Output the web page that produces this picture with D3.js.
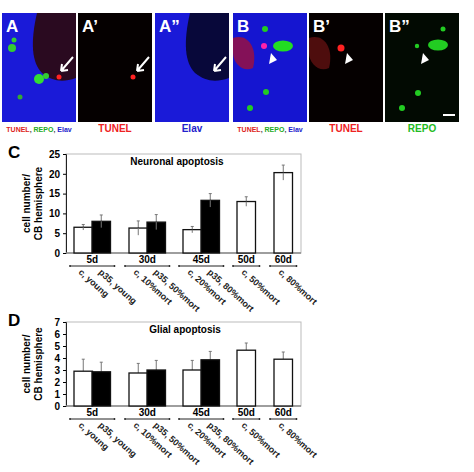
<!DOCTYPE html>
<html><head><meta charset="utf-8">
<script src="https://cdn.jsdelivr.net/npm/d3@7"></script>
<style>body{margin:0;background:#fff}text{font-family:Arial,"Liberation Sans",sans-serif}</style>
</head><body><div id="fig"></div>
<script>
const groups = ['5d', '30d', '45d', '50d', '60d'];
const conditions = ['c, young', 'p35, young', 'c, 10%mort', 'p35, 50%mort', 'c, 20%mort', 'p35, 80%mort', 'c, 50%mort', 'c, 80%mort'];
const barGroup = [0, 0, 1, 1, 2, 2, 3, 4];
const isP35 = [false, true, false, true, false, true, false, false];
const neuronalMean = [6.5, 8.0, 6.3, 7.8, 5.9, 13.3, 13.0, 20.3];
const neuronalErr = [0.7, 1.6, 1.8, 1.9, 0.8, 1.7, 1.2, 1.9];
const glialMean = [2.9, 2.85, 2.75, 3.0, 3.0, 3.85, 4.65, 3.9];
const glialErr = [1.0, 0.8, 0.8, 0.8, 0.8, 0.7, 0.6, 0.6];
const neuronalTicks = [0, 5, 10, 15, 20, 25];
const glialTicks = [0, 1, 2, 3, 4, 5, 6, 7];

const svg = d3.select('#fig').append('svg').attr('width', 474).attr('height', 472);

// ---- microscopy panels (schematic) ----
const panels = [
  {x: 2, label: 'A', bg: '#1a1ad8', dark: true},
  {x: 78, label: 'A\u2019', bg: '#050000'},
  {x: 155, label: 'A\u201d', bg: '#1a1ad8', dark: true},
  {x: 233, label: 'B', bg: '#1515d0'},
  {x: 309, label: 'B\u2019', bg: '#050000'},
  {x: 385, label: 'B\u201d', bg: '#020a02'}
];
const pw = 74, py = 13, ph = 109;
panels.forEach((p, i) => {
  const g = svg.append('g').attr('transform', `translate(${p.x},${py})`);
  g.append('rect').attr('width', pw).attr('height', ph).attr('fill', p.bg);
  if (p.dark) {
    g.append('path').attr('d', 'M35,0 L74,0 L74,65 C60,70 50,68 40,60 C30,50 28,30 35,0Z')
      .attr('fill', i === 0 ? '#2a0a20' : '#08083a');
  }
  if (i === 0) {
    [[10, 35, 4, '#3c3'], [12, 27, 2.5, '#3c3'], [37, 66, 5, '#3d3'], [44, 63, 3, '#3c3'], [18, 84, 2.5, '#3a3']]
      .forEach(c => g.append('circle').attr('cx', c[0]).attr('cy', c[1]).attr('r', c[2]).attr('fill', c[3]));
    g.append('circle').attr('cx', 57).attr('cy', 64).attr('r', 2.5).attr('fill', '#f22');
  }
  if (i === 1) g.append('circle').attr('cx', 55).attr('cy', 64).attr('r', 2.5).attr('fill', '#f22');
  if (i === 3) {
    g.append('path').attr('d', 'M0,25 C15,20 25,35 20,55 C10,60 0,50 0,40Z').attr('fill', '#a0103a').attr('opacity', 0.8);
    [[50, 33, 10, 5.5, '#2d2'], [32, 16, 3, 3, '#2c2'], [33, 79, 3, 3, '#2c2'], [17, 95, 3, 3, '#2c2']]
      .forEach(c => g.append('ellipse').attr('cx', c[0]).attr('cy', c[1]).attr('rx', c[2]).attr('ry', c[3]).attr('fill', c[4]));
    g.append('circle').attr('cx', 31).attr('cy', 33).attr('r', 3).attr('fill', '#f2a');
  }
  if (i === 4) {
    g.append('path').attr('d', 'M0,25 C15,20 25,35 20,55 C10,60 0,50 0,40Z').attr('fill', '#601010').attr('opacity', 0.8);
    g.append('circle').attr('cx', 32).attr('cy', 35).attr('r', 3.5).attr('fill', '#f22');
  }
  if (i === 5) {
    [[53, 32, 10, 5.5], [58, 16, 2.5, 2.5], [32, 33, 2.2, 2.2], [33, 80, 3, 3], [17, 95, 3, 3]]
      .forEach(c => g.append('ellipse').attr('cx', c[0]).attr('cy', c[1]).attr('rx', c[2]).attr('ry', c[3]).attr('fill', '#2c2'));
    g.append('rect').attr('x', 58).attr('y', 101).attr('width', 12).attr('height', 2).attr('fill', '#fff');
  }
  if (i < 3) {
    g.append('path').attr('d', 'M71,44 L59,58 M59,58 L60,51 M59,58 L66,57').attr('stroke', '#fff').attr('stroke-width', 2).attr('fill', 'none');
  } else {
    g.append('path').attr('d', 'M38,40 L36,51 L44,47Z').attr('fill', '#fff');
  }
  g.append('text').attr('x', 4).attr('y', 19).attr('fill', '#fff').attr('font-size', 17).attr('font-weight', 'bold').text(p.label);
});
const chan = [
  {x: 39, parts: [['TUNEL', '#d22'], [', ', '#444'], ['REPO', '#2a2'], [', ', '#444'], ['Elav', '#22c']], fs: 7},
  {x: 115, parts: [['TUNEL', '#e22']], fs: 10},
  {x: 192, parts: [['Elav', '#22c']], fs: 10},
  {x: 270, parts: [['TUNEL', '#d22'], [', ', '#444'], ['REPO', '#2a2'], [', ', '#444'], ['Elav', '#22c']], fs: 7},
  {x: 346, parts: [['TUNEL', '#e22']], fs: 10},
  {x: 422, parts: [['REPO', '#2b2']], fs: 10}
];
chan.forEach(c => {
  const t = svg.append('text').attr('x', c.x).attr('y', 132).attr('text-anchor', 'middle').attr('font-size', c.fs).attr('font-weight', 'bold');
  c.parts.forEach(p => t.append('tspan').attr('fill', p[1]).text(p[0]));
});

// ---- bar charts ----
const barX = [74, 92, 129, 147, 183, 201, 237, 274];
const barW = 18.5;

function barChart(opts) {
  const y = d3.scaleLinear().domain([0, opts.max]).range([opts.y0, opts.y1]);
  const g = svg.append('g');
  g.append('text').attr('x', 8).attr('y', opts.y1 + 4).attr('font-size', 17).attr('font-weight', 'bold').text(opts.letter);
  g.append('rect').attr('x', 66).attr('y', opts.y1).attr('width', 235).attr('height', opts.y0 - opts.y1)
    .attr('fill', 'none').attr('stroke', '#bbb');
  const ax = g.append('g').attr('transform', 'translate(66,0)')
    .call(d3.axisLeft(y).tickValues(opts.ticks).tickSize(3).tickFormat(d3.format('d')));
  ax.selectAll('text').attr('font-size', 10).attr('font-weight', 'bold');
  ax.select('.domain').attr('stroke', '#222');
  g.append('line').attr('x1', 66).attr('x2', 301).attr('y1', opts.y0).attr('y2', opts.y0).attr('stroke', '#888').attr('stroke-width', 1.5);
  g.append('text').attr('transform', `translate(30,${(opts.y0 + opts.y1) / 2}) rotate(-90)`).attr('text-anchor', 'middle')
    .attr('font-size', 10).attr('font-weight', 'bold')
    .selectAll('tspan').data(['cell number/', 'CB hemisphere']).join('tspan')
    .attr('x', 0).attr('dy', (d, i) => i ? 12 : 0).text(d => d);
  g.append('text').attr('x', opts.titleX).attr('y', opts.y1 + 11).attr('text-anchor', 'middle')
    .attr('font-size', 10).attr('font-weight', 'bold').text(opts.title);
  opts.mean.forEach((m, i) => {
    const cx = barX[i] + barW / 2;
    g.append('line').attr('x1', cx).attr('x2', cx).attr('y1', y(m + opts.err[i]))
      .attr('y2', opts.both ? y(m - opts.err[i]) : y(m)).attr('stroke', '#777');
    g.append('line').attr('x1', cx - 1.5).attr('x2', cx + 1.5).attr('y1', y(m + opts.err[i])).attr('y2', y(m + opts.err[i])).attr('stroke', '#777');
    g.append('rect').attr('x', barX[i]).attr('y', y(m)).attr('width', barW).attr('height', opts.y0 - y(m))
      .attr('fill', isP35[i] ? '#000' : '#fff').attr('stroke', '#111').attr('stroke-width', 1.3);
    if (opts.both) {
      g.append('line').attr('x1', cx).attr('x2', cx).attr('y1', y(m)).attr('y2', y(m - opts.err[i])).attr('stroke', '#777');
    }
  });
  groups.forEach((gname, gi) => {
    const idx = barGroup.map((b, i) => b === gi ? i : -1).filter(i => i >= 0);
    const xa = barX[idx[0]] - 1, xb = barX[idx[idx.length - 1]] + barW + 1;
    g.append('text').attr('x', (xa + xb) / 2).attr('y', opts.dayY).attr('text-anchor', 'middle')
      .attr('font-size', 10).attr('font-weight', 'bold').text(gname);
    g.append('line').attr('x1', xa - 3).attr('x2', xb + 3).attr('y1', opts.dayY + 3).attr('y2', opts.dayY + 3).attr('stroke', '#222');
    [xa - 3, xb + 3].forEach(px => g.append('circle').attr('cx', px).attr('cy', opts.dayY + 3).attr('r', 0.9).attr('fill', '#222'));
  });
  conditions.forEach((c, i) => {
    const cx = barX[i] + (isP35[i] ? 6 : 4);
    g.append('text').attr('transform', `translate(${cx},${opts.dayY + 10}) rotate(42)`)
      .attr('font-size', 9).attr('font-weight', 'bold').attr('fill', '#222').text(c);
  });
}

barChart({letter: 'C', y0: 253, y1: 154, max: 25, ticks: neuronalTicks, mean: neuronalMean, err: neuronalErr,
  both: true, title: 'Neuronal apoptosis', titleX: 177, dayY: 263});
barChart({letter: 'D', y0: 406, y1: 322, max: 7, ticks: glialTicks, mean: glialMean, err: glialErr,
  both: false, title: 'Glial apoptosis', titleX: 185, dayY: 416});
</script></body></html>
